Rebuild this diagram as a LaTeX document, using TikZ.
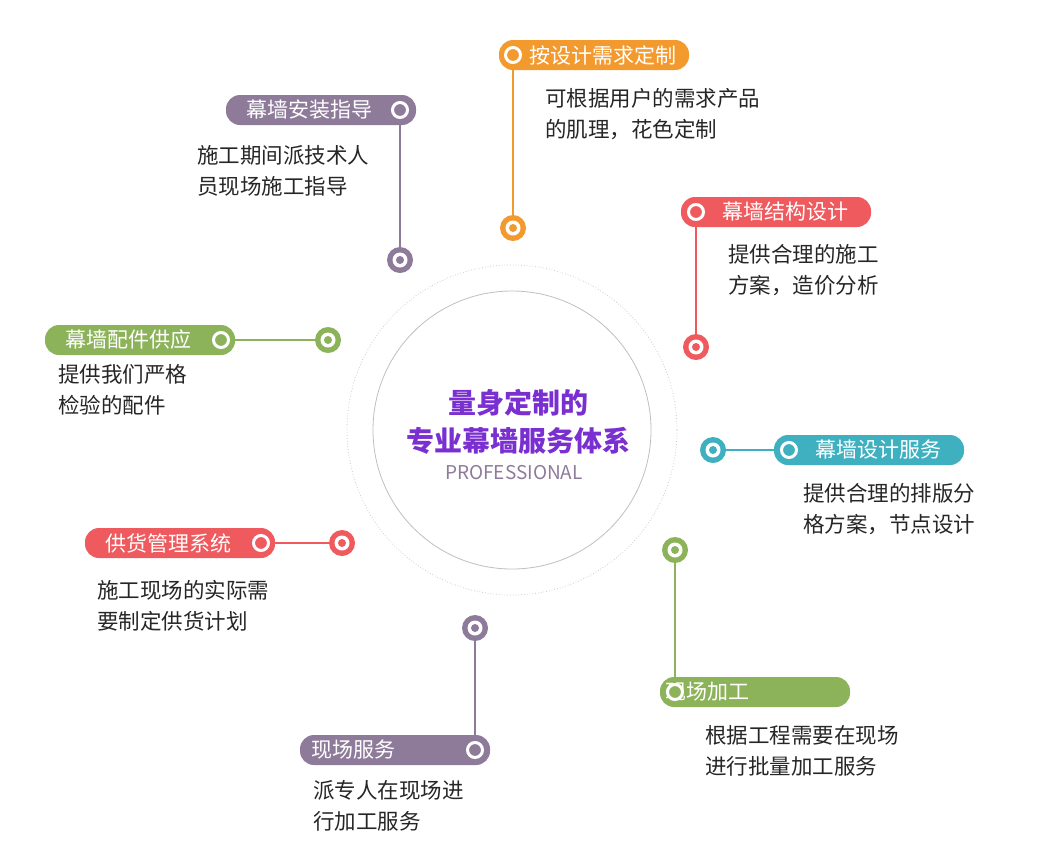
\documentclass[tikz,border=0pt]{standalone}
\usepackage{fontspec}
\setmainfont{Noto Sans CJK SC}
\usetikzlibrary{positioning}
\definecolor{cpurple}{HTML}{8E7B9A}
\definecolor{corange}{HTML}{F39A2E}
\definecolor{cred}{HTML}{EE5A5E}
\definecolor{cgreen}{HTML}{8CB35A}
\definecolor{cteal}{HTML}{3FB0C0}
\definecolor{ctitle}{HTML}{7A2FD0}
\tikzset{
  pill/.style={fill=#1, text=white, rounded corners=14pt, minimum width=190pt,
    minimum height=30pt, font=\fontsize{21pt}{23pt}\selectfont, inner sep=0pt},
  desc/.style={anchor=north west, align=left, text=black!85,
    font=\fontsize{21.5pt}{31pt}\selectfont, inner sep=0pt},
  dot/.style={circle, fill=#1, minimum size=26pt, inner sep=0pt,
    path picture={\fill[white] (path picture bounding box.center) circle (7.5pt);
      \fill[#1] (path picture bounding box.center) circle (4pt);}},
  mark/.style={circle, draw=white, line width=3pt, fill=#1, minimum size=15pt, inner sep=0pt},
  link/.style={draw=#1, line width=2.5pt}
}
\begin{document}
\begin{tikzpicture}[x=1pt, y=-1pt]
\useasboundingbox (0,0) rectangle (1046,860);

% centre
\draw[black!20, dotted, line width=0.8pt] (512,430) circle (165);
\draw[black!25, line width=0.8pt] (512,430) circle (139);
\node[font=\fontsize{28pt}{38pt}\selectfont\bfseries, text=ctitle, align=center] (title) at (518,422) {量身定制的\\专业幕墙服务体系};
\node[font=\fontsize{19pt}{21pt}\selectfont, text=cpurple] (prof) at (514,473) {PROFESSIONAL};

% 幕墙安装指导
\node[pill=cpurple] (p1) at (321,110) {\hspace*{-24pt}幕墙安装指导};
\node[mark=cpurple] (m1) at (400,110) {};
\node[dot=cpurple] (d1) at (400,260) {};
\draw[link=cpurple] (m1) -- (d1);
\node[desc] (t1) at (197,145) {施工期间派技术人\\员现场施工指导};

% 按设计需求定制
\node[pill=corange] (p2) at (594,55) {\hspace*{18pt}按设计需求定制};
\node[mark=corange] (m2) at (513,55) {};
\node[dot=corange] (d2) at (513,228) {};
\draw[link=corange] (m2) -- (d2);
\node[desc] (t2) at (545,88) {可根据用户的需求产品\\的肌理，花色定制};

% 幕墙结构设计
\node[pill=cred] (p3) at (776,212) {\hspace*{18pt}幕墙结构设计};
\node[mark=cred] (m3) at (696,212) {};
\node[dot=cred] (d3) at (696,347) {};
\draw[link=cred] (m3) -- (d3);
\node[desc] (t3) at (728,244) {提供合理的施工\\方案，造价分析};

% 幕墙配件供应
\node[pill=cgreen] (p4) at (140,340) {\hspace*{-24pt}幕墙配件供应};
\node[mark=cgreen] (m4) at (221,340) {};
\node[dot=cgreen] (d4) at (328,340) {};
\draw[link=cgreen, line width=1.5pt] (m4) -- (d4);
\node[desc] (t4) at (58,364) {提供我们严格\\检验的配件};

% 幕墙设计服务
\node[pill=cteal] (p5) at (869,450) {\hspace*{18pt}幕墙设计服务};
\node[mark=cteal] (m5) at (789,450) {};
\node[dot=cteal] (d5) at (713,450) {};
\draw[link=cteal, line width=1.5pt] (m5) -- (d5);
\node[desc] (t5) at (803,483) {提供合理的排版分\\格方案，节点设计};

% 供货管理系统
\node[pill=cred] (p6) at (180,543) {\hspace*{-24pt}供货管理系统};
\node[mark=cred] (m6) at (261,543) {};
\node[dot=cred] (d6) at (342,543) {};
\draw[link=cred, line width=1.5pt] (m6) -- (d6);
\node[desc] (t6) at (97,580) {施工现场的实际需\\要制定供货计划};

% 现场加工
\node[pill=cgreen] (p7) at (755,692) {\hspace*{-18pt}现场加工\hspace*{78pt}};
\node[mark=cgreen] (m7) at (675,692) {};
\node[dot=cgreen] (d7) at (675,550) {};
\draw[link=cgreen] (m7) -- (d7);
\node[desc] (t7) at (705,725) {根据工程需要在现场\\进行批量加工服务};

% 现场服务
\node[pill=cpurple] (p8) at (395,750) {\hspace*{-84pt}现场服务};
\node[mark=cpurple] (m8) at (475,750) {};
\node[dot=cpurple] (d8) at (475,628) {};
\draw[link=cpurple] (m8) -- (d8);
\node[desc] (t8) at (313,780) {派专人在现场进\\行加工服务};
\end{tikzpicture}
\end{document}
